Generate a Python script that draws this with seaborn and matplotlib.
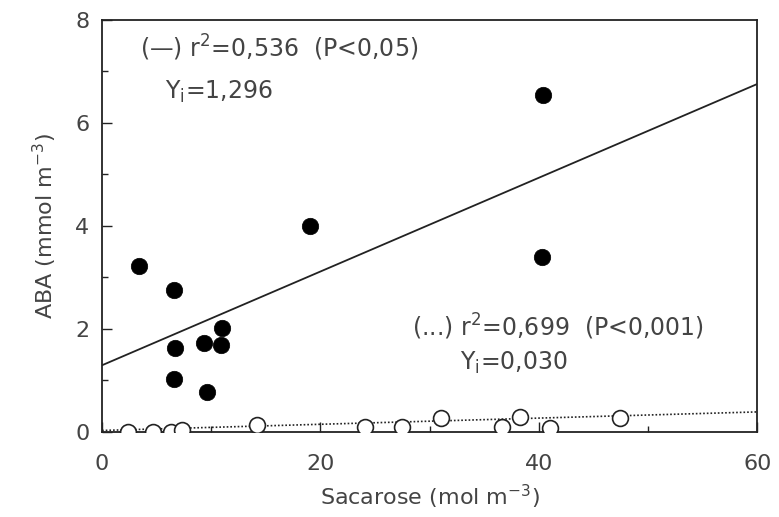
import numpy as np
import pandas as pd
import matplotlib
matplotlib.use("Agg")
import matplotlib.pyplot as plt
from matplotlib.ticker import MultipleLocator
import seaborn as sns

# filled circles (solid regression)
sac_filled = [3.4, 6.6, 6.7, 6.6, 9.3, 10.9, 11.0, 9.6, 19.0, 40.4, 40.3]
aba_filled = [3.22, 2.76, 1.63, 1.03, 1.73, 1.69, 2.02, 0.78, 4.0, 6.54, 3.40]

# open circles (dotted regression)
sac_open = [2.4, 4.7, 6.3, 7.3, 14.2, 24.1, 27.5, 31.0, 36.6, 38.3, 41.0, 47.4]
aba_open = [0.0, 0.0, 0.0, 0.04, 0.13, 0.10, 0.10, 0.27, 0.10, 0.30, 0.08, 0.27]

# regression lines (intercept, slope)
fit_solid = (1.296, 0.091)
fit_dotted = (0.030, 0.006)
x_range = np.array([0, 60])

sns.set_style("ticks")
plt.rcParams["font.family"] = ["DejaVu Sans"]
txt_color = "#444444"
fs = 16

fig = plt.figure(figsize=(7.79, 5.17), dpi=100)
ax = fig.add_axes([0.131, 0.1644, 0.841, 0.797])

sns.lineplot(x=x_range, y=fit_solid[0] + fit_solid[1] * x_range, ax=ax,
             color="#222222", lw=1.3)
sns.lineplot(x=x_range, y=fit_dotted[0] + fit_dotted[1] * x_range, ax=ax,
             color="#222222", lw=1.2, linestyle=(0, (1, 1.2)))

sns.scatterplot(x=sac_open, y=aba_open, ax=ax, s=130, facecolor="white",
                edgecolor="#222222", linewidth=1.2, zorder=3)
sns.scatterplot(x=sac_filled, y=aba_filled, ax=ax, s=140, color="black",
                edgecolor="black", linewidth=0.5, zorder=4)

ax.set_xlim(0, 60)
ax.set_ylim(0, 8)
ax.xaxis.set_major_locator(MultipleLocator(20))
ax.xaxis.set_minor_locator(MultipleLocator(10))
ax.yaxis.set_major_locator(MultipleLocator(2))
ax.yaxis.set_minor_locator(MultipleLocator(1))
ax.tick_params(which="both", direction="in", top=False, right=False,
               labelsize=fs, labelcolor=txt_color, color="#222222")
ax.tick_params(which="major", length=7, width=1, pad=9)
ax.tick_params(which="minor", length=4, width=1)
ax.tick_params(axis="x", which="major", pad=16)
for sp in ax.spines.values():
    sp.set_visible(True)
    sp.set_color("#222222")
    sp.set_linewidth(1.3)

ax.set_xlabel("Sacarose (mol m$^{-3}$)", fontsize=fs, color=txt_color, labelpad=6)
ax.set_ylabel("ABA (mmol m$^{-3}$)", fontsize=fs, color=txt_color, labelpad=12)

ax.text(3.5, 7.46, "(—) r$^2$=0,536  (P<0,05)", fontsize=fs + 1, color=txt_color, va="center")
ax.text(5.8, 6.6, "Y$_{\\rm i}$=1,296", fontsize=fs + 1, color=txt_color, va="center")
ax.text(28.4, 2.04, "(...) r$^2$=0,699  (P<0,001)", fontsize=fs + 1, color=txt_color, va="center")
ax.text(32.8, 1.34, "Y$_{\\rm i}$=0,030", fontsize=fs + 1, color=txt_color, va="center")

fig.savefig("out.png", dpi=100)
